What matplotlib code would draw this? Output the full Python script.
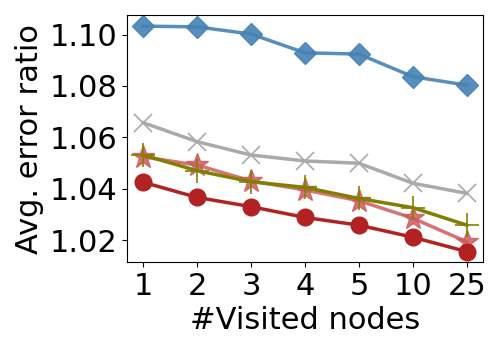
import matplotlib
matplotlib.use('Agg')
import matplotlib.pyplot as plt
import numpy as np

visited = ['1', '2', '3', '4', '5', '10', '25']

blue_diamond = [1.1033, 1.1030, 1.1002, 1.0929, 1.0924, 1.0836, 1.0803]
gray_x = [1.0657, 1.0583, 1.0531, 1.0508, 1.0499, 1.0421, 1.0382]
olive_plus = [1.0531, 1.0470, 1.0427, 1.0405, 1.0362, 1.0326, 1.0258]
red_star = [1.0524, 1.0492, 1.0430, 1.0395, 1.0353, 1.0285, 1.0193]
red_circle = [1.0425, 1.0366, 1.0330, 1.0288, 1.0258, 1.0211, 1.0155]


def main():
    plt.rcParams['font.size'] = 22
    fig, ax = plt.subplots(figsize=(5, 3.5), dpi=100)
    x = np.arange(len(visited))

    ax.plot(x, blue_diamond, color='#4682b4', marker='D', markersize=11,
            linewidth=2.5, alpha=0.9)
    ax.plot(x, gray_x, color='#aaaaaa', marker='x', markersize=13,
            markeredgewidth=1.2, linewidth=2.5)
    ax.plot(x, red_star, color='#cd5c5c', marker='*', markersize=17,
            linewidth=2.5, alpha=0.85)
    ax.plot(x, olive_plus, color='#808000', marker='+', markersize=17,
            markeredgewidth=1.2, linewidth=2.5)
    ax.plot(x, red_circle, color='#b22222', marker='o', markersize=12,
            linewidth=2.5)

    ax.set_xticks(x)
    ax.set_xticklabels(visited)
    ax.set_yticks([1.02, 1.04, 1.06, 1.08, 1.10])
    ax.set_xlim(-0.3, 6.3)
    ax.set_ylim(1.0114, 1.1076)
    ax.set_xlabel('#Visited nodes')
    ax.set_ylabel('Avg. error ratio')

    fig.subplots_adjust(left=0.254, right=0.966, top=0.957, bottom=0.251)
    fig.savefig('out.png', dpi=100)


if __name__ == '__main__':
    main()
